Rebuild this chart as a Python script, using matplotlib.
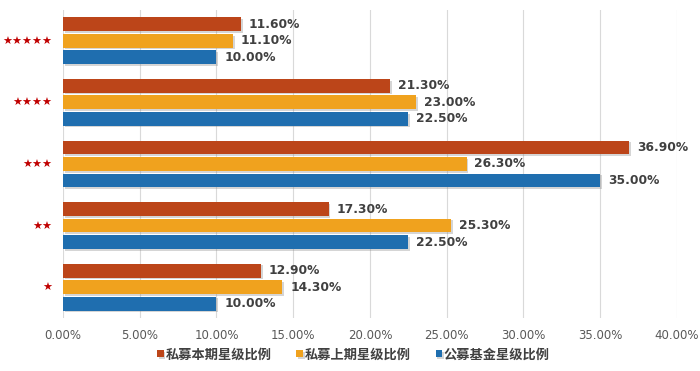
import matplotlib
matplotlib.use("Agg")
import matplotlib.pyplot as plt
import matplotlib.patheffects as pe
import numpy as np

plt.rcParams['font.family'] = ['Noto Sans CJK SC', 'DejaVu Sans']

categories = ["★", "★★", "★★★", "★★★★", "★★★★★"]
series_names = ["私募本期星级比例", "私募上期星级比例", "公募基金星级比例"]
current_pm = [12.9, 17.3, 36.9, 21.3, 11.6]
previous_pm = [14.3, 25.3, 26.3, 23.0, 11.1]
public_fund = [10.0, 22.5, 35.0, 22.5, 10.0]
xticks = [0, 5, 10, 15, 20, 25, 30, 35, 40]

colors = ["#BC4519", "#F0A21E", "#1F6EAF"]

fig = plt.figure(figsize=(7.0, 3.71), dpi=100)
ax = fig.add_axes([0.09, 0.143, 0.877, 0.830])

y = np.arange(len(categories))
step = 0.268
h = 0.225
shadow = [pe.SimplePatchShadow(offset=(1.2, -1.2), alpha=0.35, shadow_rgbFace="#888888"), pe.Normal()]
for i, (vals, name, c) in enumerate(zip([current_pm, previous_pm, public_fund], series_names, colors)):
    pos = y + step * (1 - i)
    bars = ax.barh(pos, vals, height=h, color=c, label=name, zorder=3)
    for b in bars:
        b.set_path_effects(shadow)
    for p, v in zip(pos, vals):
        ax.text(v + 0.5, p, f"{v:.2f}%", va="center", ha="left", fontsize=8.8,
                fontweight="bold", color="#404040", family=["DejaVu Sans"], zorder=4)

ax.set_xlim(0, 40)
ax.set_ylim(-0.5, len(categories) - 0.5)
ax.set_xticks(xticks)
ax.set_xticklabels([f"{t:.2f}%" for t in xticks], fontsize=8.5, color="#595959", family=["DejaVu Sans"])
ax.set_yticks(y)
ax.set_yticklabels(categories, fontsize=8, color="#C00000", family=["DejaVu Sans"])
ax.tick_params(axis="x", length=0, pad=8)
ax.tick_params(axis="y", length=0, pad=8)
ax.grid(axis="x", color="#D9D9D9", linewidth=0.8, zorder=0)
for s in ax.spines.values():
    s.set_visible(False)

leg = fig.legend(loc="center", bbox_to_anchor=(0.505, 0.045), ncol=3, frameon=False,
                 handlelength=0.5, handleheight=0.5, handletextpad=0.12, columnspacing=1.9,
                 prop={"size": 9.5, "weight": "bold"})
for t in leg.get_texts():
    t.set_color("#404040")

fig.savefig("out.png", dpi=100)
